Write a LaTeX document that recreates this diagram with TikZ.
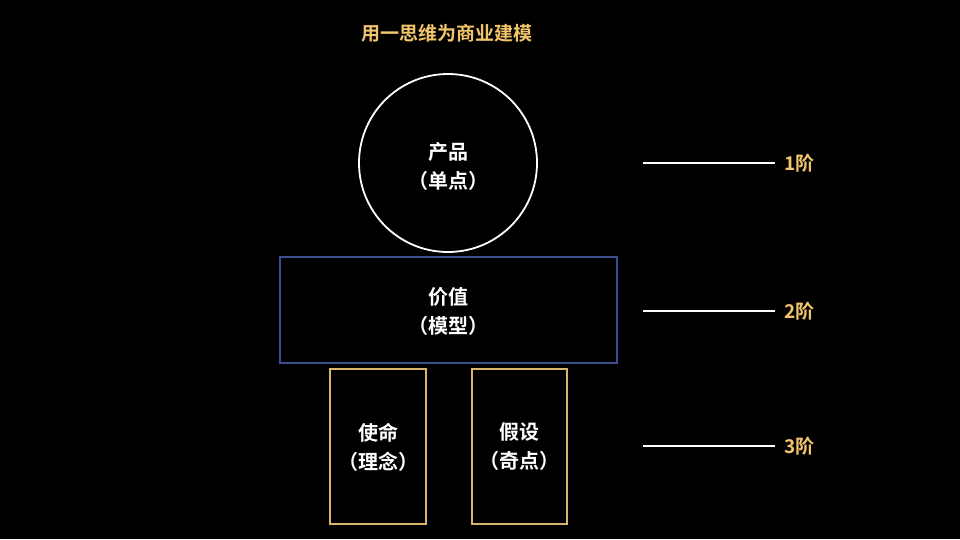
\documentclass[tikz,border=0pt]{standalone}
\usepackage{fontspec}
\newfontfamily\cjk{Noto Sans CJK SC Bold}
\definecolor{gold}{HTML}{F2C56B}
\definecolor{boxgold}{HTML}{D9B56A}
\definecolor{navy}{HTML}{3D4E8C}
\tikzset{
  lbl/.style={text=white,font=\cjk\fontsize{20}{29}\selectfont,align=center},
  lvl/.style={text=gold,font=\cjk\fontsize{19}{22}\selectfont,anchor=west,inner sep=0pt},
  tick/.style={white,line width=1.5pt}
}
\begin{document}
\begin{tikzpicture}[x=1pt,y=-1pt]
\fill[black] (0,0) rectangle (960,539);
\useasboundingbox (0,0) rectangle (960,539);
\node[text=gold,font=\cjk\fontsize{19}{22}\selectfont] (title) at (447,33) {用一思维为商业建模};
% levels
\draw[white,line width=1.8pt] (448,163) circle (89);
\node[lbl] (prod) at (448,166) {产品\\（单点）};
\draw[navy,line width=1.8pt] (280,257) rectangle (617,363);
\node[lbl] (value) at (448,311) {价值\\（模型）};
\draw[boxgold,line width=1.8pt] (330,369) rectangle (426,524);
\node[lbl] (mission) at (378,447) {使命\\（理念）};
\draw[boxgold,line width=1.8pt] (472,369) rectangle (567,524);
\node[lbl] (assume) at (519,447) {假设\\（奇点）};
% markers
\foreach \y/\t [count=\i] in {163/1阶,311/2阶,446/3阶}{
  \coordinate (s\i) at (643,\y);
  \coordinate (e\i) at (775,\y);
  \node[lvl] (l\i) at (784,\y) {\t};
  \draw[tick] (s\i) -- (e\i);
}
\end{tikzpicture}
\end{document}
